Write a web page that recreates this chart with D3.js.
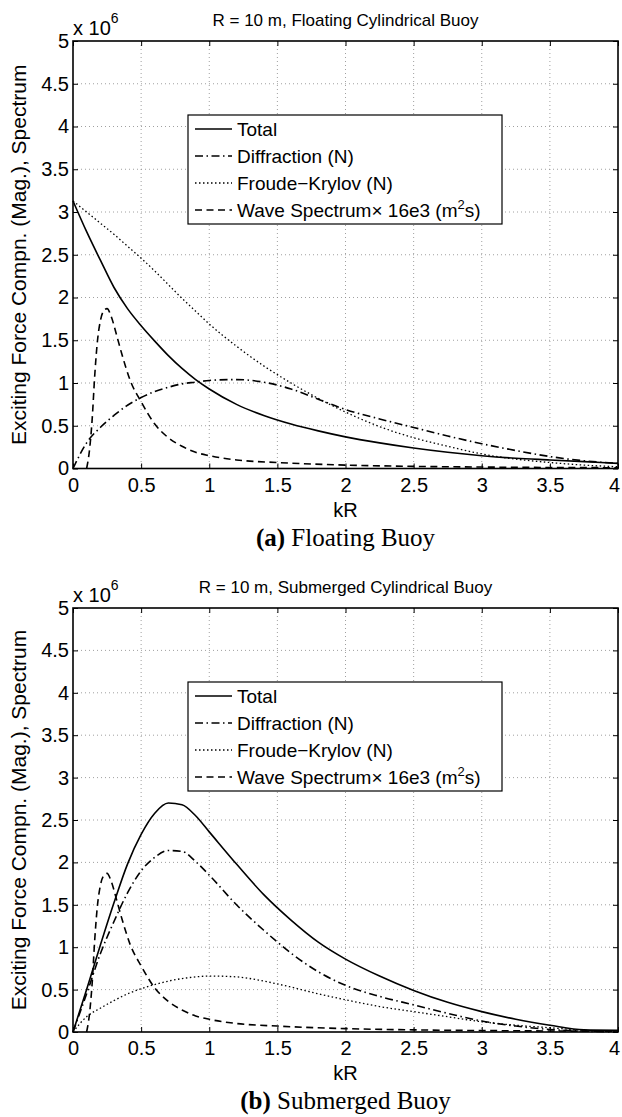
<!DOCTYPE html>
<meta charset="utf-8">
<head>
    <script src="https://d3js.org/d3.v7.min.js"></script>
    <title>Exciting force components</title>
    <style>
        body { margin: 0; background: #fff; }
        text { font-family: "Liberation Sans", Arial, Helvetica, sans-serif; fill: #000; }
        .caption { font-family: "Liberation Serif", "Times New Roman", serif; }
    </style>
</head>
<body>
<svg width="622" height="1117"></svg>
<script>
    // tick labels
    var xTicks = [0, 0.5, 1, 1.5, 2, 2.5, 3, 3.5, 4];
    var yTicks = [0, 0.5, 1, 1.5, 2, 2.5, 3, 3.5, 4, 4.5, 5];

    // kR grid used by the force curves (values in units of 1e6)
    var kGrid = [0, 0.1, 0.2, 0.3, 0.4, 0.5, 0.6, 0.7, 0.8, 0.9, 1.0, 1.2, 1.4, 1.6, 1.8, 2.0, 2.25, 2.5, 2.75, 3.0, 3.25, 3.5, 3.75, 4.0];

    var floatTotal = [3.13, 2.77, 2.44, 2.12, 1.87, 1.67, 1.49, 1.32, 1.17, 1.04, 0.93, 0.75, 0.62, 0.52, 0.44, 0.37, 0.30, 0.24, 0.19, 0.15, 0.12, 0.10, 0.08, 0.06];
    var floatDiffraction = [0.0, 0.30, 0.48, 0.62, 0.74, 0.83, 0.90, 0.95, 0.99, 1.01, 1.03, 1.04, 1.01, 0.93, 0.81, 0.69, 0.58, 0.48, 0.38, 0.29, 0.21, 0.14, 0.09, 0.06];
    var floatFroude = [3.13, 3.00, 2.87, 2.74, 2.60, 2.46, 2.31, 2.15, 1.99, 1.84, 1.69, 1.43, 1.20, 1.00, 0.82, 0.66, 0.49, 0.36, 0.26, 0.17, 0.11, 0.07, 0.04, 0.02];

    var subTotal = [0.0, 0.50, 1.02, 1.52, 1.98, 2.33, 2.58, 2.70, 2.68, 2.55, 2.36, 1.98, 1.62, 1.32, 1.06, 0.86, 0.66, 0.49, 0.35, 0.24, 0.15, 0.08, 0.025, 0.02];
    var subDiffraction = [0.0, 0.45, 0.92, 1.30, 1.64, 1.90, 2.06, 2.14, 2.13, 2.01, 1.85, 1.50, 1.20, 0.93, 0.71, 0.55, 0.42, 0.32, 0.22, 0.13, 0.07, 0.03, 0.01, 0.0];
    var subFroude = [0.0, 0.18, 0.28, 0.37, 0.45, 0.51, 0.56, 0.60, 0.63, 0.65, 0.66, 0.65, 0.60, 0.53, 0.45, 0.38, 0.30, 0.24, 0.18, 0.12, 0.08, 0.05, 0.02, 0.0];

    // wave spectrum x 16e3 (same in both panels)
    var waveK = [0.1, 0.12, 0.14, 0.16, 0.18, 0.2, 0.22, 0.25, 0.28, 0.32, 0.36, 0.42, 0.5, 0.6, 0.7, 0.8, 0.9, 1.0, 1.2, 1.5, 2.0, 2.5, 3.0, 3.5, 4.0];
    var waveSpec = [0.0, 0.20, 0.56, 1.10, 1.50, 1.72, 1.83, 1.87, 1.78, 1.56, 1.33, 1.03, 0.78, 0.52, 0.36, 0.26, 0.19, 0.15, 0.10, 0.07, 0.04, 0.025, 0.017, 0.012, 0.009];

    var legendNames = ["Total", "Diffraction (N)", "Froude\u2212Krylov (N)", "Wave Spectrum"];
    var dashes = ["none", "8,3.5,1.5,3.5", "1.5,2.5", "7,4.5"];

    var svg = d3.select("svg");

    var left = 73, right = 618;

    function drawPanel(top, bottom, title, capLetter, capText, total, diffraction, froude) {
        var x = d3.scaleLinear().domain([0, 4]).range([left, right]);
        var y = d3.scaleLinear().domain([0, 5]).range([bottom, top]);
        var g = svg.append("g");

        // grid
        g.append("g").selectAll("line").data(xTicks.slice(1, -1)).enter().append("line")
            .attr("x1", d => x(d)).attr("x2", d => x(d)).attr("y1", top).attr("y2", bottom)
            .attr("stroke", "#888").attr("stroke-width", 0.8).attr("stroke-dasharray", "1,3");
        g.append("g").selectAll("line").data(yTicks.slice(1, -1)).enter().append("line")
            .attr("y1", d => y(d)).attr("y2", d => y(d)).attr("x1", left).attr("x2", right)
            .attr("stroke", "#888").attr("stroke-width", 0.8).attr("stroke-dasharray", "1,3");

        // axes (ticks point inwards, like matlab)
        var xAxis = g.append("g").attr("transform", "translate(0," + bottom + ")")
            .call(d3.axisBottom(x).tickValues(xTicks).tickSizeInner(-5).tickSizeOuter(0).tickPadding(9)
                .tickFormat(d3.format("")));
        var yAxis = g.append("g").attr("transform", "translate(" + left + ",0)")
            .call(d3.axisLeft(y).tickValues(yTicks).tickSizeInner(-5).tickSizeOuter(0).tickPadding(4)
                .tickFormat(d3.format("")));
        g.append("g").attr("transform", "translate(0," + top + ")")
            .call(d3.axisTop(x).tickValues(xTicks).tickSizeInner(-5).tickSizeOuter(0).tickFormat(""));
        g.append("g").attr("transform", "translate(" + right + ",0)")
            .call(d3.axisRight(y).tickValues(yTicks).tickSizeInner(-5).tickSizeOuter(0).tickFormat(""));
        g.selectAll(".domain").remove();
        g.selectAll(".tick line").attr("stroke", "#000");
        xAxis.selectAll("text").style("font-size", "20px").attr("fill", "#000");
        xAxis.selectAll("text").filter(d => d == 4).attr("dx", -4);
        yAxis.selectAll("text").style("font-size", "20px").attr("fill", "#000");

        // data lines
        var line = d3.line().x(d => x(d[0])).y(d => y(d[1])).curve(d3.curveMonotoneX);
        var series = [
            kGrid.map((k, i) => [k, total[i]]),
            kGrid.map((k, i) => [k, diffraction[i]]),
            kGrid.map((k, i) => [k, froude[i]]),
            waveK.map((k, i) => [k, waveSpec[i]])
        ];
        g.append("g").selectAll("path").data(series).enter().append("path")
            .attr("d", line)
            .attr("fill", "none")
            .attr("stroke", "#000")
            .attr("stroke-width", (d, i) => i == 2 ? 1.3 : 1.6)
            .attr("stroke-dasharray", (d, i) => dashes[i]);

        // box
        g.append("rect").attr("x", left).attr("y", top)
            .attr("width", right - left).attr("height", bottom - top)
            .attr("fill", "none").attr("stroke", "#000").attr("stroke-width", 1.6);

        // exponent
        var ex = g.append("text").attr("x", left).attr("y", top - 6).style("font-size", "20px");
        ex.append("tspan").text("x 10");
        ex.append("tspan").attr("dy", -12).style("font-size", "14px").text("6");

        // title
        g.append("text").attr("x", (left + right) / 2).attr("y", top - 15)
            .attr("text-anchor", "middle").style("font-size", "17px").text(title);

        // y label
        g.append("text")
            .attr("transform", "translate(26," + ((top + bottom) / 2) + ") rotate(-90)")
            .attr("text-anchor", "middle").style("font-size", "21px")
            .text("Exciting Force Compn. (Mag.), Spectrum");

        // x label
        g.append("text").attr("x", (left + right) / 2).attr("y", bottom + 48)
            .attr("text-anchor", "middle").style("font-size", "20px").text("kR");

        // caption
        var cap = g.append("text").attr("class", "caption")
            .attr("x", (left + right) / 2).attr("y", bottom + 77)
            .attr("text-anchor", "middle").style("font-size", "25px");
        cap.append("tspan").style("font-weight", "bold").text("(" + capLetter + ")");
        cap.append("tspan").text(" " + capText);

        // legend
        var lx = 188, ly = top + 74, lw = 314, lh = 109;
        var lg = g.append("g");
        lg.append("rect").attr("x", lx).attr("y", ly).attr("width", lw).attr("height", lh)
            .attr("fill", "#fff").attr("stroke", "#000").attr("stroke-width", 1.2);
        legendNames.forEach(function (name, i) {
            var ry = ly + 14 + i * 27;
            lg.append("line").attr("x1", lx + 7).attr("x2", lx + 44).attr("y1", ry).attr("y2", ry)
                .attr("stroke", "#000").attr("stroke-width", i == 2 ? 1.3 : 1.6)
                .attr("stroke-dasharray", dashes[i]);
            var t = lg.append("text").attr("x", lx + 49).attr("y", ry + 7).style("font-size", "19px");
            t.append("tspan").text(name);
            if (i == 3) {
                t.append("tspan").text("\u00d7 16e3 (m");
                t.append("tspan").attr("dy", -8).style("font-size", "13px").text("2");
                t.append("tspan").attr("dy", 8).text("s)");
            }
        });
    }

    drawPanel(41, 468.5, "R = 10 m, Floating Cylindrical Buoy", "a", "Floating Buoy",
        floatTotal, floatDiffraction, floatFroude);
    drawPanel(608, 1032, "R = 10 m, Submerged Cylindrical Buoy", "b", "Submerged Buoy",
        subTotal, subDiffraction, subFroude);
</script>
</body>
